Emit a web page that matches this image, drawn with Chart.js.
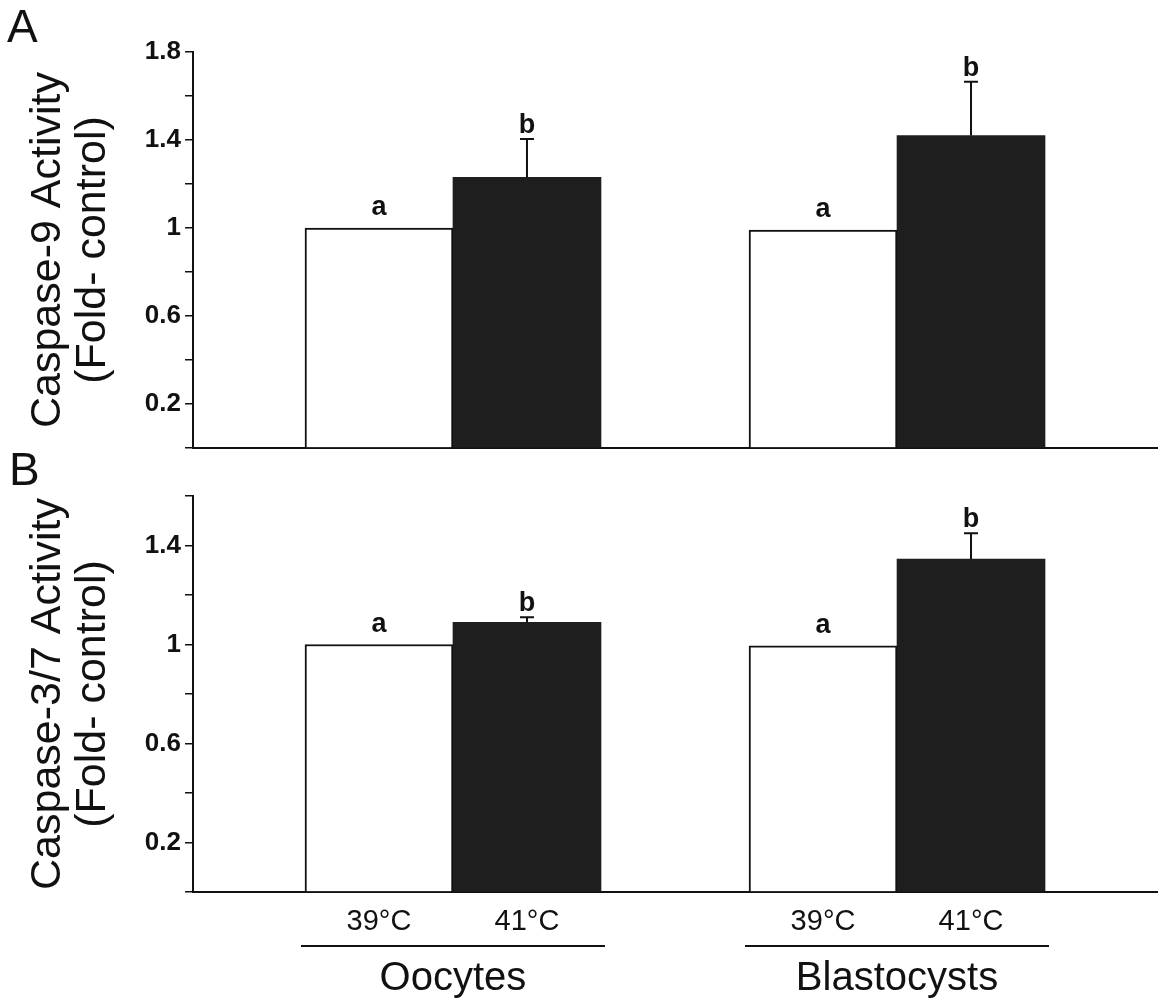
<!DOCTYPE html>
<html>
<head>
<meta charset="utf-8">
<script src="https://cdn.jsdelivr.net/npm/chart.js@4.4.1/dist/chart.umd.min.js"></script>
<style>
    body { margin: 0; background: #fff; }
    #wrap { position: relative; width: 1163px; height: 1007px; }
    .panel { position: absolute; left: 0; width: 1163px; }
</style>
</head>
<body>
<div id="wrap">
    <div class="panel" style="top:0;height:480px"><canvas id="chartA"></canvas></div>
    <div class="panel" style="top:440px;height:567px"><canvas id="chartB"></canvas></div>
</div>
<script>
// categories
const groups = ['Oocytes', 'Blastocysts'];
const groupPos = [1, 3];
const temps = ['39°C', '41°C'];

// panel A: caspase-9 (fold of control)
const casp9Ctrl = [1.0, 0.99];
const casp9Heat = [1.23, 1.42];
const casp9HeatErr = [0.175, 0.245];
const casp9TickLabels = [0.2, 0.6, 1, 1.4, 1.8];

// panel B: caspase-3/7 (fold of control)
const casp37Ctrl = [1.0, 0.995];
const casp37Heat = [1.09, 1.345];
const casp37HeatErr = [0.02, 0.105];
const casp37TickLabels = [0.2, 0.6, 1, 1.4];

// significance letters
const ctrlLetters = ['a', 'a'];
const heatLetters = ['b', 'b'];

const FONT = '"Liberation Sans", Arial, Helvetica, sans-serif';
const INK = '#111';

function barPanel(id, opts) {
    const ctx = document.getElementById(id).getContext('2d');

    const annot = {
        id: 'annot',
        afterDatasetsDraw(chart) {
            const c = chart.ctx;
            const y = chart.scales.y;
            const ctrlMeta = chart.getDatasetMeta(0);
            const heatMeta = chart.getDatasetMeta(1);
            c.save();
            c.strokeStyle = INK;
            c.fillStyle = INK;
            c.lineWidth = 2;
            c.font = 'bold 27px ' + FONT;
            c.textAlign = 'center';
            c.textBaseline = 'alphabetic';
            // error bars (upper only) + letters
            heatMeta.data.forEach((bar, i) => {
                const top = y.getPixelForValue(opts.heat[i] + opts.heatErr[i]);
                c.beginPath();
                c.moveTo(bar.x, bar.y);
                c.lineTo(bar.x, top);
                c.moveTo(bar.x - 7, top);
                c.lineTo(bar.x + 7, top);
                c.stroke();
                c.fillText(heatLetters[i], bar.x, top - 6);
            });
            ctrlMeta.data.forEach((bar, i) => {
                c.fillText(ctrlLetters[i], bar.x, bar.y - 13);
            });
            // panel letter
            c.font = '46px ' + FONT;
            c.textAlign = 'left';
            c.fillText(opts.letter, opts.letterX, opts.letterY);
            c.restore();
            if (opts.extras) opts.extras(chart);
        }
    };

    return new Chart(ctx, {
        type: 'bar',
        data: {
            datasets: [{
                label: temps[0],
                data: groupPos.map((x, i) => ({ x: x, y: opts.ctrl[i] })),
                backgroundColor: '#ffffff',
                borderColor: INK,
                borderWidth: 2,
                barThickness: 148
            }, {
                label: temps[1],
                data: groupPos.map((x, i) => ({ x: x, y: opts.heat[i] })),
                backgroundColor: '#1e1e1e',
                borderColor: '#1e1e1e',
                borderWidth: 0,
                barThickness: 148
            }]
        },
        options: {
            responsive: true,
            maintainAspectRatio: false,
            animation: false,
            layout: {
                padding: { top: opts.padTop, bottom: opts.padBottom, left: 0, right: 6 }
            },
            plugins: {
                legend: { display: false },
                tooltip: { enabled: false }
            },
            scales: {
                x: {
                    type: 'linear',
                    offset: false,
                    min: -0.171,
                    max: 4.171,
                    ticks: { display: false },
                    grid: { display: false, drawTicks: false, tickLength: 0 },
                    border: { color: INK, width: 2 },
                    afterFit: function (scale) {
                        scale.height = 0;
                    }
                },
                y: {
                    min: 0,
                    max: opts.yMax,
                    afterFit: function (scale) {
                        scale.width = 193;
                    },
                    ticks: {
                        stepSize: 0.2,
                        autoSkip: false,
                        padding: 4,
                        color: INK,
                        font: { family: FONT, size: 26, weight: 'bold' },
                        callback: function (value) {
                            const r = Math.round(value * 10) / 10;
                            return opts.tickLabels.includes(r) ? String(r) : '';
                        }
                    },
                    grid: {
                        drawOnChartArea: false,
                        drawTicks: true,
                        tickLength: 8,
                        color: INK,
                        lineWidth: 1.5
                    },
                    border: { color: INK, width: 2 },
                    title: {
                        display: true,
                        text: opts.title,
                        color: INK,
                        font: { family: FONT, size: 43, lineHeight: '45px' },
                        padding: { top: 26, bottom: 0 }
                    }
                }
            }
        },
        plugins: [annot]
    });
}

document.addEventListener('DOMContentLoaded', function () {
    // Caspase-9
    barPanel('chartA', {
        ctrl: casp9Ctrl,
        heat: casp9Heat,
        heatErr: casp9HeatErr,
        yMax: 1.8,
        tickLabels: casp9TickLabels,
        title: ['Caspase-9 Activity', '(Fold- control)'],
        padTop: 52,
        padBottom: 32,
        letter: 'A',
        letterX: 7,
        letterY: 42
    });

    // Caspase-3/7 with the group labels below
    barPanel('chartB', {
        ctrl: casp37Ctrl,
        heat: casp37Heat,
        heatErr: casp37HeatErr,
        yMax: 1.6,
        tickLabels: casp37TickLabels,
        title: ['Caspase-3/7 Activity', '(Fold- control)'],
        padTop: 56,
        padBottom: 115,
        letter: 'B',
        letterX: 9,
        letterY: 45,
        extras: function (chart) {
            const c = chart.ctx;
            const x = chart.scales.x;
            const base = chart.chartArea.bottom;
            c.save();
            c.fillStyle = INK;
            c.strokeStyle = INK;
            c.textAlign = 'center';
            c.textBaseline = 'alphabetic';
            c.font = '29px ' + FONT;
            [0, 1].forEach(d => {
                chart.getDatasetMeta(d).data.forEach(bar => {
                    c.fillText(temps[d], bar.x, base + 38);
                });
            });
            c.lineWidth = 2;
            c.font = '40px ' + FONT;
            groupPos.forEach((g, i) => {
                const cx = x.getPixelForValue(g);
                c.beginPath();
                c.moveTo(cx - 152, base + 54);
                c.lineTo(cx + 152, base + 54);
                c.stroke();
                c.fillText(groups[i], cx, base + 98);
            });
            c.restore();
        }
    });
});
</script>
</body>
</html>
